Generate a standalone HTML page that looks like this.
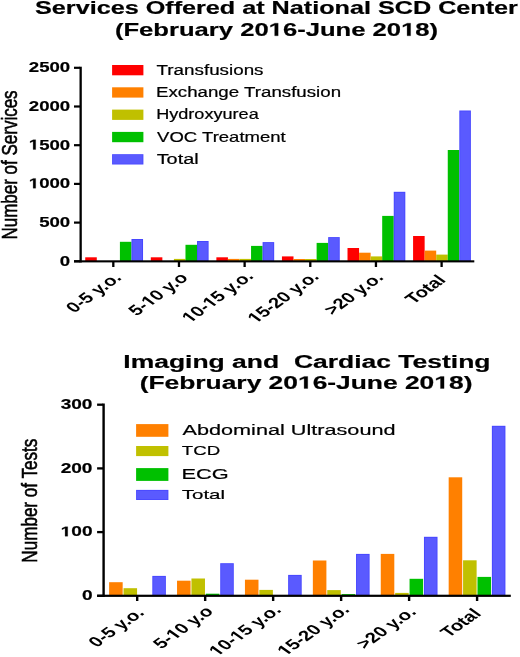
<!DOCTYPE html>
<html><head><meta charset="utf-8"><style>
html,body{margin:0;padding:0;background:#fff;overflow:hidden;width:520px;height:657px;}
svg{display:block;will-change:transform;}
text{font-family:"Liberation Sans", sans-serif;fill:#000;white-space:pre;stroke:#000;stroke-width:0.2px;}
text.yt{stroke-width:0.45px;}
text.xl{stroke:none;}
.h{fill-opacity:0;stroke-opacity:0;}
</style></head><body>
<svg width="520" height="657" viewBox="0 0 520 657">
<g>
<rect width="520" height="657" fill="#fff"/>
<text transform="translate(35.04,14.00) scale(1.3701,1)" font-size="18.4" font-weight="bold" text-anchor="start">Services Offered at National SCD Center</text>
<text id="t0" transform="translate(114.92,35.80) scale(1.3929,1)" font-size="18.4" font-weight="bold" text-anchor="start">(February 20<tspan class="h">1</tspan>6-June 20<tspan class="h">1</tspan>8)</text>
<rect x="74.00" y="66.70" width="6.00" height="2.20" fill="#000"/>
<text transform="translate(70.10,72.10) scale(1.3085,1)" font-size="14.2" font-weight="bold" text-anchor="end">2500</text>
<rect x="74.00" y="105.40" width="6.00" height="2.20" fill="#000"/>
<text transform="translate(70.10,110.80) scale(1.3085,1)" font-size="14.2" font-weight="bold" text-anchor="end">2000</text>
<rect x="74.00" y="144.10" width="6.00" height="2.20" fill="#000"/>
<text id="t1" transform="translate(70.10,149.50) scale(1.3085,1)" font-size="14.2" font-weight="bold" text-anchor="end"><tspan class="h">1</tspan>500</text>
<rect x="74.00" y="182.80" width="6.00" height="2.20" fill="#000"/>
<text id="t2" transform="translate(70.10,188.20) scale(1.3085,1)" font-size="14.2" font-weight="bold" text-anchor="end"><tspan class="h">1</tspan>000</text>
<rect x="74.00" y="221.50" width="6.00" height="2.20" fill="#000"/>
<text transform="translate(70.10,226.90) scale(1.3085,1)" font-size="14.2" font-weight="bold" text-anchor="end">500</text>
<rect x="74.00" y="260.20" width="6.00" height="2.20" fill="#000"/>
<text transform="translate(70.10,265.60) scale(1.3085,1)" font-size="14.2" font-weight="bold" text-anchor="end">0</text>
<text class="yt" transform="translate(16.80,239.54) scale(1.3400,1) rotate(-90)" font-size="17.0" font-weight="normal" text-anchor="start">Number of Services</text>
<rect x="112.10" y="65.00" width="31.30" height="10.30" fill="#ff0000"/>
<text transform="translate(156.53,74.70) scale(1.3436,1)" font-size="14.0" font-weight="normal" text-anchor="start">Transfusions</text>
<rect x="112.10" y="87.30" width="31.30" height="10.30" fill="#ff8000"/>
<text transform="translate(156.00,97.10) scale(1.3363,1)" font-size="14.0" font-weight="normal" text-anchor="start">Exchange Transfusion</text>
<rect x="112.10" y="109.60" width="31.30" height="10.30" fill="#c0c000"/>
<text transform="translate(156.15,119.20) scale(1.2931,1)" font-size="14.0" font-weight="normal" text-anchor="start">Hydroxyurea</text>
<rect x="112.10" y="131.90" width="31.30" height="10.30" fill="#00c000"/>
<text transform="translate(157.11,141.50) scale(1.3235,1)" font-size="14.0" font-weight="normal" text-anchor="start">VOC Treatment</text>
<rect x="112.10" y="154.20" width="31.30" height="10.30" fill="#4646ff"/>
<rect x="112.90" y="155.00" width="29.70" height="8.70" fill="#5a5aff"/>
<text transform="translate(156.70,163.60) scale(1.4180,1)" font-size="14.0" font-weight="normal" text-anchor="start">Total</text>
<rect x="85.23" y="257.30" width="11.56" height="3.70" fill="#ff0000"/>
<rect x="119.91" y="241.80" width="11.56" height="19.20" fill="#00c000"/>
<rect x="131.47" y="239.00" width="11.56" height="22.00" fill="#4646ff"/>
<rect x="132.37" y="239.90" width="9.76" height="21.10" fill="#5a5aff"/>
<rect x="150.80" y="257.30" width="11.56" height="3.70" fill="#ff0000"/>
<rect x="173.92" y="258.90" width="11.56" height="2.10" fill="#c0c000"/>
<rect x="185.48" y="244.80" width="11.56" height="16.20" fill="#00c000"/>
<rect x="197.04" y="241.00" width="11.56" height="20.00" fill="#4646ff"/>
<rect x="197.94" y="241.90" width="9.76" height="19.10" fill="#5a5aff"/>
<rect x="216.37" y="257.30" width="11.56" height="3.70" fill="#ff0000"/>
<rect x="227.93" y="258.90" width="11.56" height="2.10" fill="#ff8000"/>
<rect x="239.49" y="258.90" width="11.56" height="2.10" fill="#c0c000"/>
<rect x="251.05" y="245.90" width="11.56" height="15.10" fill="#00c000"/>
<rect x="262.61" y="242.10" width="11.56" height="18.90" fill="#4646ff"/>
<rect x="263.51" y="243.00" width="9.76" height="18.00" fill="#5a5aff"/>
<rect x="281.94" y="256.40" width="11.56" height="4.60" fill="#ff0000"/>
<rect x="293.50" y="259.00" width="11.56" height="2.00" fill="#ff8000"/>
<rect x="305.06" y="259.00" width="11.56" height="2.00" fill="#c0c000"/>
<rect x="316.62" y="242.90" width="11.56" height="18.10" fill="#00c000"/>
<rect x="328.18" y="237.10" width="11.56" height="23.90" fill="#4646ff"/>
<rect x="329.08" y="238.00" width="9.76" height="23.00" fill="#5a5aff"/>
<rect x="347.51" y="248.00" width="11.56" height="13.00" fill="#ff0000"/>
<rect x="359.07" y="252.70" width="11.56" height="8.30" fill="#ff8000"/>
<rect x="370.63" y="256.40" width="11.56" height="4.60" fill="#c0c000"/>
<rect x="382.19" y="215.90" width="11.56" height="45.10" fill="#00c000"/>
<rect x="393.75" y="191.80" width="11.56" height="69.20" fill="#4646ff"/>
<rect x="394.65" y="192.70" width="9.76" height="68.30" fill="#5a5aff"/>
<rect x="413.08" y="236.00" width="11.56" height="25.00" fill="#ff0000"/>
<rect x="424.64" y="250.60" width="11.56" height="10.40" fill="#ff8000"/>
<rect x="436.20" y="254.60" width="11.56" height="6.40" fill="#c0c000"/>
<rect x="447.76" y="150.00" width="11.56" height="111.00" fill="#00c000"/>
<rect x="459.32" y="110.50" width="11.56" height="150.50" fill="#4646ff"/>
<rect x="460.22" y="111.40" width="9.76" height="149.60" fill="#5a5aff"/>
<rect x="112.16" y="261.00" width="2.30" height="6.00" fill="#000"/>
<rect x="177.82" y="261.00" width="2.30" height="6.00" fill="#000"/>
<rect x="243.48" y="261.00" width="2.30" height="6.00" fill="#000"/>
<rect x="309.14" y="261.00" width="2.30" height="6.00" fill="#000"/>
<rect x="374.80" y="261.00" width="2.30" height="6.00" fill="#000"/>
<rect x="440.46" y="261.00" width="2.30" height="6.00" fill="#000"/>
<text class="xl" transform="translate(122.50,278.60) scale(1.3870,1) rotate(-45)" font-size="14.6" font-weight="bold" text-anchor="end">0-5 y.o.</text>
<text class="xl" id="t3" transform="translate(189.00,278.80) scale(1.3870,1) rotate(-45)" font-size="14.6" font-weight="bold" text-anchor="end">5-<tspan class="h">1</tspan>0 y.o</text>
<text class="xl" id="t4" transform="translate(254.40,277.15) scale(1.3870,1) rotate(-45)" font-size="14.6" font-weight="bold" text-anchor="end"><tspan class="h">1</tspan>0-<tspan class="h">1</tspan>5 y.o.</text>
<text class="xl" id="t5" transform="translate(320.10,277.65) scale(1.3870,1) rotate(-45)" font-size="14.6" font-weight="bold" text-anchor="end"><tspan class="h">1</tspan>5-20 y.o.</text>
<text class="xl" transform="translate(384.45,278.50) scale(1.3870,1) rotate(-45)" font-size="14.6" font-weight="bold" text-anchor="end">&gt;20 y.o.</text>
<text class="xl" transform="translate(446.65,280.90) scale(1.3870,1) rotate(-45)" font-size="14.6" font-weight="bold" text-anchor="end">Total</text>
<text transform="translate(123.28,368.20) scale(1.4237,1)" font-size="18.6" font-weight="bold" text-anchor="start">Imaging and  Cardiac Testing</text>
<text id="t6" transform="translate(139.68,388.50) scale(1.5074,1)" font-size="17.5" font-weight="bold" text-anchor="start">(February 20<tspan class="h">1</tspan>6-June 20<tspan class="h">1</tspan>8)</text>
<rect x="97.10" y="403.55" width="6.00" height="2.30" fill="#000"/>
<text transform="translate(92.50,408.80) scale(1.3841,1)" font-size="13.8" font-weight="bold" text-anchor="end">300</text>
<rect x="97.10" y="467.25" width="6.00" height="2.30" fill="#000"/>
<text transform="translate(92.50,472.50) scale(1.3841,1)" font-size="13.8" font-weight="bold" text-anchor="end">200</text>
<rect x="97.10" y="530.95" width="6.00" height="2.30" fill="#000"/>
<text id="t7" transform="translate(92.50,536.20) scale(1.3841,1)" font-size="13.8" font-weight="bold" text-anchor="end"><tspan class="h">1</tspan>00</text>
<rect x="97.10" y="594.65" width="6.00" height="2.30" fill="#000"/>
<text transform="translate(92.50,599.90) scale(1.3841,1)" font-size="13.8" font-weight="bold" text-anchor="end">0</text>
<text class="yt" transform="translate(36.90,562.63) scale(1.3400,1) rotate(-90)" font-size="17.07" font-weight="normal" text-anchor="start">Number of Tests</text>
<rect x="136.10" y="424.10" width="32.30" height="12.70" fill="#ff8000"/>
<text transform="translate(182.50,435.20) scale(1.4071,1)" font-size="15.4" font-weight="normal" text-anchor="start">Abdominal Ultrasound</text>
<rect x="136.10" y="446.00" width="32.30" height="10.10" fill="#c0c000"/>
<text transform="translate(181.80,455.20) scale(1.4030,1)" font-size="13.3" font-weight="normal" text-anchor="start">TCD</text>
<rect x="136.10" y="468.10" width="32.30" height="12.80" fill="#00c000"/>
<text transform="translate(181.45,479.00) scale(1.4065,1)" font-size="15.5" font-weight="normal" text-anchor="start">ECG</text>
<rect x="136.10" y="489.90" width="32.30" height="10.10" fill="#4646ff"/>
<rect x="136.90" y="490.70" width="30.70" height="8.50" fill="#5a5aff"/>
<text transform="translate(181.80,499.00) scale(1.5074,1)" font-size="13.6" font-weight="normal" text-anchor="start">Total</text>
<rect x="109.12" y="582.20" width="13.55" height="13.30" fill="#ff8000"/>
<rect x="123.52" y="588.20" width="13.55" height="7.30" fill="#c0c000"/>
<rect x="152.32" y="575.90" width="13.55" height="19.60" fill="#4646ff"/>
<rect x="153.22" y="576.80" width="11.75" height="18.70" fill="#5a5aff"/>
<rect x="177.03" y="580.70" width="13.55" height="14.80" fill="#ff8000"/>
<rect x="191.43" y="578.50" width="13.55" height="17.00" fill="#c0c000"/>
<rect x="205.83" y="593.70" width="13.55" height="1.80" fill="#00c000"/>
<rect x="220.23" y="563.20" width="13.55" height="32.30" fill="#4646ff"/>
<rect x="221.13" y="564.10" width="11.75" height="31.40" fill="#5a5aff"/>
<rect x="244.94" y="579.70" width="13.55" height="15.80" fill="#ff8000"/>
<rect x="259.34" y="589.90" width="13.55" height="5.60" fill="#c0c000"/>
<rect x="288.14" y="574.90" width="13.55" height="20.60" fill="#4646ff"/>
<rect x="289.04" y="575.80" width="11.75" height="19.70" fill="#5a5aff"/>
<rect x="312.85" y="560.50" width="13.55" height="35.00" fill="#ff8000"/>
<rect x="327.25" y="590.10" width="13.55" height="5.40" fill="#c0c000"/>
<rect x="341.65" y="594.10" width="13.55" height="1.40" fill="#00c000"/>
<rect x="356.05" y="553.90" width="13.55" height="41.60" fill="#4646ff"/>
<rect x="356.95" y="554.80" width="11.75" height="40.70" fill="#5a5aff"/>
<rect x="380.76" y="553.90" width="13.55" height="41.60" fill="#ff8000"/>
<rect x="395.16" y="592.90" width="13.55" height="2.60" fill="#c0c000"/>
<rect x="409.56" y="578.80" width="13.55" height="16.70" fill="#00c000"/>
<rect x="423.96" y="536.80" width="13.55" height="58.70" fill="#4646ff"/>
<rect x="424.86" y="537.70" width="11.75" height="57.80" fill="#5a5aff"/>
<rect x="448.67" y="477.30" width="13.55" height="118.20" fill="#ff8000"/>
<rect x="463.07" y="560.30" width="13.55" height="35.20" fill="#c0c000"/>
<rect x="477.47" y="576.90" width="13.55" height="18.60" fill="#00c000"/>
<rect x="491.87" y="425.80" width="13.55" height="169.70" fill="#4646ff"/>
<rect x="492.77" y="426.70" width="11.75" height="168.80" fill="#5a5aff"/>
<rect x="135.99" y="596.00" width="2.40" height="5.00" fill="#000"/>
<rect x="203.97" y="596.00" width="2.40" height="5.00" fill="#000"/>
<rect x="271.95" y="596.00" width="2.40" height="5.00" fill="#000"/>
<rect x="339.93" y="596.00" width="2.40" height="5.00" fill="#000"/>
<rect x="407.91" y="596.00" width="2.40" height="5.00" fill="#000"/>
<rect x="475.89" y="596.00" width="2.40" height="5.00" fill="#000"/>
<text class="xl" transform="translate(145.35,613.60) scale(1.4200,1) rotate(-45)" font-size="14.4" font-weight="bold" text-anchor="end">0-5 y.o.</text>
<text class="xl" id="t8" transform="translate(214.30,612.25) scale(1.4200,1) rotate(-45)" font-size="14.4" font-weight="bold" text-anchor="end">5-<tspan class="h">1</tspan>0 y.o</text>
<text class="xl" id="t9" transform="translate(282.20,611.00) scale(1.4200,1) rotate(-45)" font-size="14.4" font-weight="bold" text-anchor="end"><tspan class="h">1</tspan>0-<tspan class="h">1</tspan>5 y.o.</text>
<text class="xl" id="t10" transform="translate(350.50,610.75) scale(1.4200,1) rotate(-45)" font-size="14.4" font-weight="bold" text-anchor="end"><tspan class="h">1</tspan>5-20 y.o.</text>
<text class="xl" transform="translate(417.20,612.85) scale(1.4200,1) rotate(-45)" font-size="14.4" font-weight="bold" text-anchor="end">&gt;20 y.o.</text>
<text class="xl" transform="translate(482.15,614.50) scale(1.4200,1) rotate(-45)" font-size="14.4" font-weight="bold" text-anchor="end">Total</text>
<rect x="79.50" y="66.70" width="2.30" height="195.80" fill="#000"/>
<rect x="74.00" y="260.30" width="400.30" height="2.10" fill="#000"/>
<rect x="102.40" y="403.50" width="2.40" height="193.50" fill="#000"/>
<rect x="97.10" y="594.70" width="413.70" height="2.20" fill="#000"/>
<g transform="translate(114.92,35.80) scale(1.3929,1)" fill="#000"><path d="M478 0L478 1170L140 959L140 1180L493 1409L759 1409L759 0Z" transform="translate(110.389,0.000) scale(0.008984,-0.008984)" stroke="#000" stroke-width="22.26"/><path d="M478 0L478 1170L140 959L140 1180L493 1409L759 1409L759 0Z" transform="translate(205.469,0.000) scale(0.008984,-0.008984)" stroke="#000" stroke-width="22.26"/></g>
<g transform="translate(70.10,149.50) scale(1.3085,1)" fill="#000"><path d="M478 0L478 1170L140 959L140 1180L493 1409L759 1409L759 0Z" transform="translate(-31.558,0.000) scale(0.006934,-0.006934)" stroke="#000" stroke-width="28.85"/></g>
<g transform="translate(70.10,188.20) scale(1.3085,1)" fill="#000"><path d="M478 0L478 1170L140 959L140 1180L493 1409L759 1409L759 0Z" transform="translate(-31.558,0.000) scale(0.006934,-0.006934)" stroke="#000" stroke-width="28.85"/></g>
<g transform="translate(189.00,278.80) scale(1.3870,1) rotate(-45)" fill="#000"><path d="M478 0L478 1170L140 959L140 1180L493 1409L759 1409L759 0Z" transform="translate(-40.281,0.000) scale(0.007129,-0.007129)"/></g>
<g transform="translate(254.40,277.15) scale(1.3870,1) rotate(-45)" fill="#000"><path d="M478 0L478 1170L140 959L140 1180L493 1409L759 1409L759 0Z" transform="translate(-65.429,0.000) scale(0.007129,-0.007129)"/><path d="M478 0L478 1170L140 959L140 1180L493 1409L759 1409L759 0Z" transform="translate(-44.339,0.000) scale(0.007129,-0.007129)"/></g>
<g transform="translate(320.10,277.65) scale(1.3870,1) rotate(-45)" fill="#000"><path d="M478 0L478 1170L140 959L140 1180L493 1409L759 1409L759 0Z" transform="translate(-65.429,0.000) scale(0.007129,-0.007129)"/></g>
<g transform="translate(139.68,388.50) scale(1.5074,1)" fill="#000"><path d="M478 0L478 1170L140 959L140 1180L493 1409L759 1409L759 0Z" transform="translate(105.004,0.000) scale(0.008545,-0.008545)" stroke="#000" stroke-width="23.41"/><path d="M478 0L478 1170L140 959L140 1180L493 1409L759 1409L759 0Z" transform="translate(195.448,0.000) scale(0.008545,-0.008545)" stroke="#000" stroke-width="23.41"/></g>
<g transform="translate(92.50,536.20) scale(1.3841,1)" fill="#000"><path d="M478 0L478 1170L140 959L140 1180L493 1409L759 1409L759 0Z" transform="translate(-23.022,0.000) scale(0.006738,-0.006738)" stroke="#000" stroke-width="29.68"/></g>
<g transform="translate(214.30,612.25) scale(1.4200,1) rotate(-45)" fill="#000"><path d="M478 0L478 1170L140 959L140 1180L493 1409L759 1409L759 0Z" transform="translate(-39.747,0.000) scale(0.007031,-0.007031)"/></g>
<g transform="translate(282.20,611.00) scale(1.4200,1) rotate(-45)" fill="#000"><path d="M478 0L478 1170L140 959L140 1180L493 1409L759 1409L759 0Z" transform="translate(-64.557,0.000) scale(0.007031,-0.007031)"/><path d="M478 0L478 1170L140 959L140 1180L493 1409L759 1409L759 0Z" transform="translate(-43.742,0.000) scale(0.007031,-0.007031)"/></g>
<g transform="translate(350.50,610.75) scale(1.4200,1) rotate(-45)" fill="#000"><path d="M478 0L478 1170L140 959L140 1180L493 1409L759 1409L759 0Z" transform="translate(-64.544,0.000) scale(0.007031,-0.007031)"/></g>
</g>
</svg>
</body></html>
